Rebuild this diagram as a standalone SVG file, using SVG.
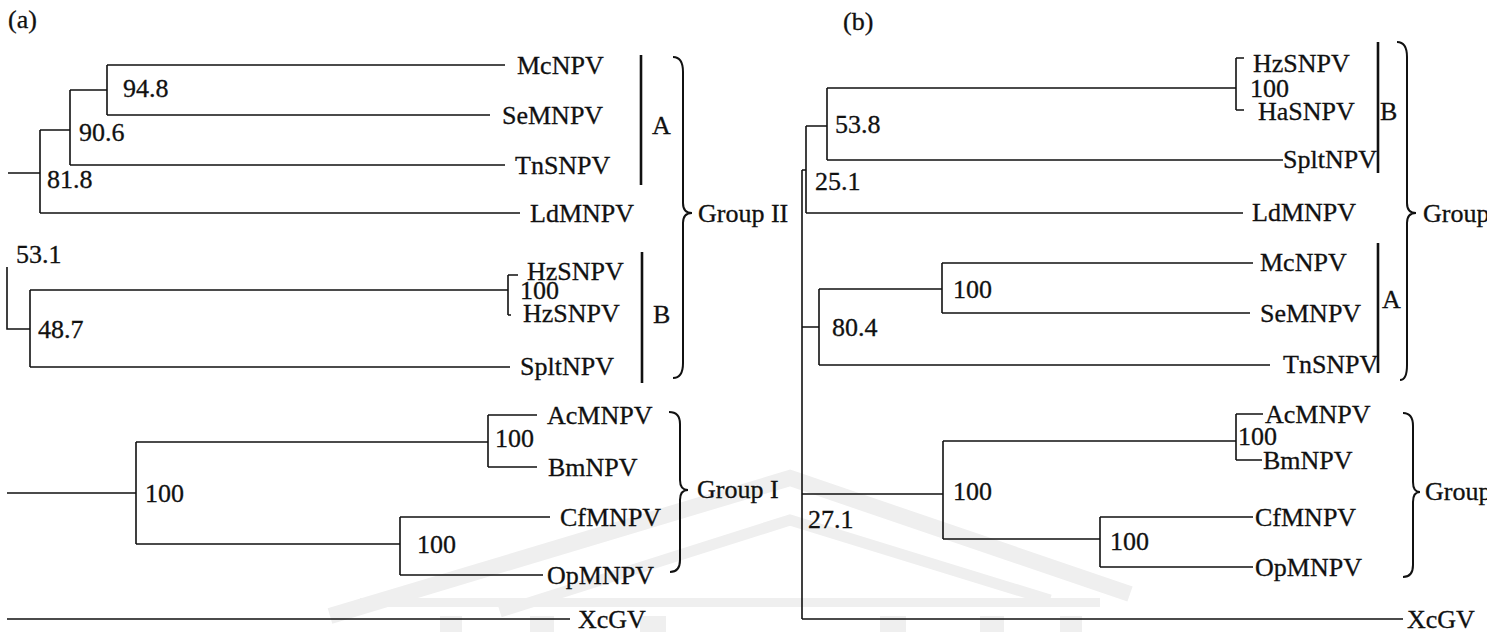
<svg xmlns="http://www.w3.org/2000/svg" width="1500" height="632" viewBox="0 0 1500 632">
<style>
text{font-family:"Liberation Serif","Times New Roman",serif;font-size:26px;fill:#111;stroke:#111;stroke-width:0.3}
.ln{fill:none;stroke:#111;stroke-width:1.6}
.bar{fill:none;stroke:#111;stroke-width:2.6}
.br{fill:none;stroke:#111;stroke-width:2}
.wm{fill:none;stroke:#efefef;stroke-linejoin:miter}
.wmf{fill:#efefef}
</style>
<defs>
<clipPath id="clipR"><rect x="0" y="0" width="1487" height="632"/></clipPath>
</defs>
<rect width="1500" height="632" fill="#fff"/>
<g id="watermark">
<polyline class="wm" stroke-width="16" points="330,616 790,478 1130,594"/>
<polyline class="wm" stroke-width="11" points="500,612 790,520 1050,600"/>
<rect class="wmf" x="360" y="598" width="740" height="9"/>
<rect class="wmf" x="440" y="616" width="22" height="16"/>
<rect class="wmf" x="530" y="616" width="24" height="16"/>
<rect class="wmf" x="640" y="616" width="26" height="16"/>
<rect class="wmf" x="880" y="616" width="26" height="16"/>
<rect class="wmf" x="980" y="616" width="24" height="16"/>
<rect class="wmf" x="1060" y="616" width="22" height="16"/>
</g>
<text x="8" y="28">(a)</text>
<text x="843" y="30">(b)</text>
<g id="connectors">
<path class="ln" d="M8,173H40M40,130V213M40,130H70M70,90V165M70,90H107M107,65V115M107,65H505M107,115H490M70,165H505M40,213H520"/>
<path class="ln" d="M7,267V329H30M30,290V367M30,290H508M508,275V315M508,275H518M508,315H511M30,367H510"/>
<path class="ln" d="M7,493H136M136,442V544M136,442H488M488,415V467M488,415H537M488,467H537M136,544H400M400,517V575M400,517H550M400,575H543M7,619H570"/>
<path class="ln" d="M802,170V619M802,170H806M806,126V213M806,126H827M827,88V160M827,88H1236M1236,58V110M1236,58H1244M1236,110H1244M827,160H1283M806,213H1243"/>
<path class="ln" d="M802,327H819M819,289V365M819,289H942M942,263V313M942,263H1253M942,313H1250M819,365H1270"/>
<path class="ln" d="M802,494H943M943,441V539M943,441H1236M1236,414V460M1236,414H1263M1236,460H1262M943,539H1100M1100,517V567M1100,517H1253M1100,567H1253M802,619H1403"/>
</g>
<g id="leaves-a">
<text x="517" y="74">McNPV</text>
<text x="502" y="124">SeMNPV</text>
<text x="515" y="174">TnSNPV</text>
<text x="530" y="222">LdMNPV</text>
<text x="527" y="280">HzSNPV</text>
<text x="520" y="299">100</text>
<text x="523" y="322">HzSNPV</text>
<text x="520" y="375">SpltNPV</text>
<text x="547" y="424">AcMNPV</text>
<text x="495" y="447">100</text>
<text x="548" y="476">BmNPV</text>
<text x="560" y="526">CfMNPV</text>
<text x="547" y="584">OpMNPV</text>
<text x="578" y="628">XcGV</text>
</g>
<g id="support-a">
<text x="123" y="97">94.8</text>
<text x="79" y="141">90.6</text>
<text x="47" y="188">81.8</text>
<text x="16" y="263">53.1</text>
<text x="38" y="338">48.7</text>
<text x="145" y="502">100</text>
<text x="417" y="553">100</text>
</g>
<g id="groups-a">
<path class="bar" d="M641,55V185M642,252V383"/>
<text x="652" y="134">A</text>
<text x="653" y="323">B</text>
<path class="br" d="M673,57Q683,57 683,72V203Q683,213 692,213Q683,213 683,223V363Q683,378 673,378"/>
<text x="698" y="222">Group II</text>
<path class="br" d="M669,412Q680,412 680,424V480Q680,490 688,490Q680,490 680,500V560Q680,572 670,572"/>
<text x="697" y="498">Group I</text>
</g>
<g id="leaves-b">
<text x="1253" y="72">HzSNPV</text>
<text x="1250" y="97">100</text>
<text x="1258" y="120">HaSNPV</text>
<text x="1283" y="168">SpltNPV</text>
<text x="1252" y="221">LdMNPV</text>
<text x="1260" y="271">McNPV</text>
<text x="1260" y="322">SeMNPV</text>
<text x="1283" y="373">TnSNPV</text>
<text x="1265" y="423">AcMNPV</text>
<text x="1238" y="445">100</text>
<text x="1263" y="469">BmNPV</text>
<text x="1255" y="526">CfMNPV</text>
<text x="1255" y="576">OpMNPV</text>
<text x="1407" y="628">XcGV</text>
</g>
<g id="support-b">
<text x="835" y="133">53.8</text>
<text x="815" y="190">25.1</text>
<text x="832" y="336">80.4</text>
<text x="953" y="298">100</text>
<text x="808" y="528">27.1</text>
<text x="953" y="500">100</text>
<text x="1110" y="550">100</text>
</g>
<g id="groups-b" clip-path="url(#clipR)">
<path class="bar" d="M1378,42V173M1378,243V373"/>
<text x="1380" y="120">B</text>
<text x="1382" y="308">A</text>
<path class="br" d="M1397,42Q1407,42 1407,57V203Q1407,213 1416,213Q1407,213 1407,223V365Q1407,380 1400,380"/>
<text x="1423" y="222">Group II</text>
<path class="br" d="M1403,413Q1413,413 1413,426V482Q1413,492 1420,492Q1413,492 1413,502V565Q1413,577 1403,577"/>
<text x="1425" y="500">Group I</text>
</g>
</svg>
